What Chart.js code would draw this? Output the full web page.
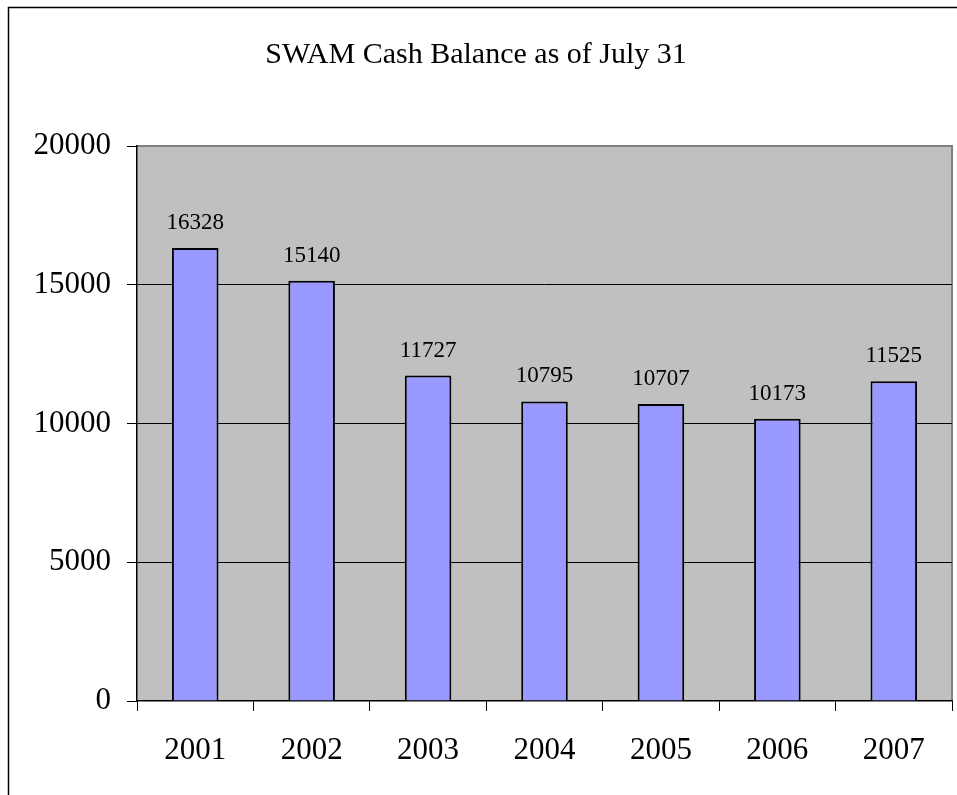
<!DOCTYPE html>
<html>
<head>
<meta charset="utf-8">
<script src="https://cdn.jsdelivr.net/npm/chart.js@4/dist/chart.umd.min.js"></script>
<style>
	html, body { margin: 0; padding: 0; background: #fff; }
	#box { width: 957px; height: 795px; }
</style>
</head>
<body>
<div id="box"><canvas id="myChart" width="957" height="795"></canvas></div>
<script>
const years = ['2001', '2002', '2003', '2004', '2005', '2006', '2007'];
const balance = [16328, 15140, 11727, 10795, 10707, 10173, 11525];
const yTicks = [0, 5000, 10000, 15000, 20000];

const serif = 'Liberation Serif, Times New Roman, serif';

// grey plot background, frame and outer border
const frame = {
	id: 'frame',
	beforeDraw(chart) {
		const { ctx, chartArea: a } = chart;
		ctx.save();
		ctx.strokeStyle = '#000';
		ctx.lineWidth = 1.5;
		ctx.strokeRect(8.5, 7.5, 960, 800);
		ctx.fillStyle = '#C0C0C0';
		ctx.fillRect(a.left, a.top, a.right - a.left, a.bottom - a.top);
		ctx.strokeStyle = '#808080';
		ctx.lineWidth = 2;
		ctx.beginPath();
		ctx.moveTo(a.left, a.top);
		ctx.lineTo(a.right, a.top);
		ctx.lineTo(a.right, a.bottom);
		ctx.stroke();
		ctx.restore();
	}
};

// value above each bar
const barLabels = {
	id: 'barLabels',
	afterDatasetsDraw(chart) {
		const { ctx } = chart;
		const meta = chart.getDatasetMeta(0);
		ctx.save();
		ctx.font = '23px ' + serif;
		ctx.fillStyle = '#000';
		ctx.textAlign = 'center';
		ctx.textBaseline = 'middle';
		meta.data.forEach((bar, i) => {
			ctx.fillText(String(balance[i]), bar.x, bar.y - 25);
		});
		ctx.restore();
	}
};

const ctx = document.getElementById('myChart').getContext('2d');
const myChart = new Chart(ctx, {
	type: 'bar',
	data: {
		labels: years,
		datasets: [{
			data: balance,
			backgroundColor: '#9999FF',
			borderColor: '#000',
			borderWidth: 2,
			categoryPercentage: 1,
			barPercentage: 0.4
		}]
	},
	options: {
		responsive: false,
		animation: false,
		layout: { padding: { left: 0, right: 5, top: 0, bottom: 0 } },
		plugins: {
			legend: { display: false },
			tooltip: { enabled: false },
			title: {
				display: true,
				text: 'SWAM Cash Balance as of July 31',
				color: '#000',
				font: { family: serif, size: 30, weight: 'normal' },
				padding: { top: 37, bottom: 73 }
			}
		},
		scales: {
			x: {
				afterFit: s => { s.height = 94 },
				grid: {
					offset: true,
					drawOnChartArea: false,
					tickLength: 10,
					tickColor: '#000'
				},
				border: { color: '#000', width: 1.5 },
				ticks: {
					color: '#000',
					padding: 21,
					font: { family: serif, size: 31 }
				}
			},
			y: {
				min: 0,
				max: 20000,
				afterFit: s => { s.width = 137 },
				afterBuildTicks: s => { s.ticks = yTicks.map(v => ({ value: v })) },
				grid: {
					color: ctx => (ctx.tick && ctx.tick.value > 0 && ctx.tick.value < 20000) ? '#000' : 'rgba(0,0,0,0)',
					lineWidth: 1,
					tickLength: 10,
					tickColor: '#000'
				},
				border: { color: '#000', width: 1.5 },
				ticks: {
					color: '#000',
					padding: 16,
					font: { family: serif, size: 31 },
					callback: v => String(v)
				}
			}
		}
	},
	plugins: [frame, barLabels]
});
</script>
</body>
</html>
